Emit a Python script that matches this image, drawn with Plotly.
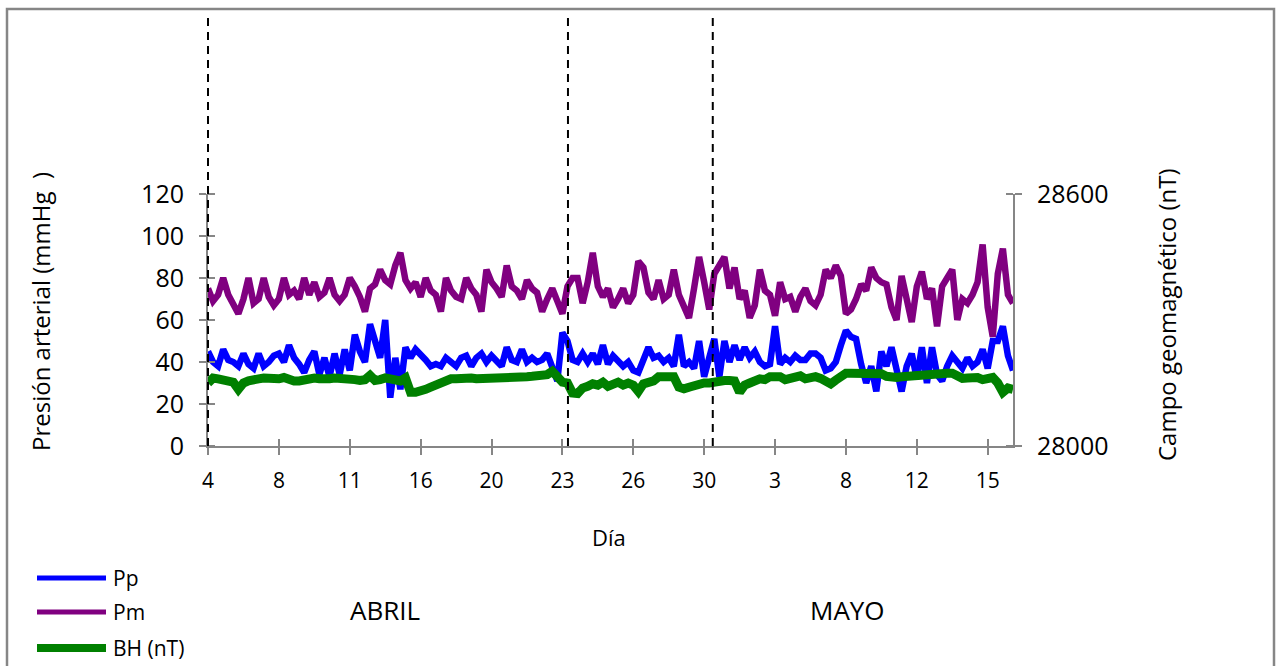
import plotly.graph_objects as go

# ---- data -------------------------------------------------------------
day_ticks = ["4", "8", "11", "16", "20", "23", "26", "30", "3", "8", "12", "15"]
tick_step = 14  # readings between labelled days

pp = [45, 40, 38, 46, 41, 40, 38, 44, 39, 37, 44, 38, 40, 43, 44, 40, 48, 42, 39, 35,
      41, 45, 34, 42, 33, 44, 34, 46,
      36, 53, 45, 40, 58, 50, 42, 60, 23, 42, 27, 47, 42, 46, 44, 41, 38, 39, 38, 42,
      40, 38, 42, 43, 38, 42, 44,
      40, 43, 41, 38, 47, 41, 40, 46, 40, 42, 40, 41, 44, 38, 31, 54, 50, 41, 40, 44,
      40, 44, 39, 48, 39, 43,
      41, 38, 40, 36, 35, 42, 47, 42, 43, 40, 42, 38, 53, 38, 40, 37, 50, 33, 41, 51,
      33, 50, 40, 48, 41, 47, 42,
      45, 40, 38, 39, 57, 39, 42, 40, 43, 41, 41, 44, 44, 42, 36, 37, 40, 48, 55, 52,
      51, 39, 30, 38, 26, 45,
      38, 47, 35, 26, 38, 44, 32, 47, 30, 47, 34, 31, 38, 43, 40, 37, 42, 38, 40, 46,
      37, 50, 50, 57, 43, 36]

pm = [75, 69, 72, 80, 72, 68, 63, 70, 80, 68, 70, 80, 71, 67, 70, 80, 72, 74, 70, 80,
      72, 78, 71, 73, 80, 72, 69, 72,
      80, 76, 71, 64, 75, 77, 84, 79, 77, 86, 92, 79, 75, 78, 71, 80, 74, 72, 64, 80,
      74, 71, 70, 80, 75, 72, 64,
      84, 78, 75, 71, 86, 76, 74, 70, 79, 75, 73, 64, 70, 75, 69, 63, 76, 80, 80, 68,
      78, 92, 76, 71, 75, 66,
      70, 75, 68, 72, 88, 85, 73, 70, 79, 70, 72, 84, 72, 66, 61, 75, 90, 78, 65, 82,
      86, 90, 75, 85, 70, 74, 61,
      67, 84, 74, 72, 62, 78, 70, 71, 64, 71, 75, 69, 67, 72, 84, 80, 86, 81, 63, 65,
      70, 77, 74, 85, 80, 78,
      77, 66, 60, 81, 71, 59, 76, 83, 70, 75, 57, 76, 80, 84, 60, 70, 68, 72, 78, 96,
      66, 52, 82, 94, 72, 68]

bh = [28150, 28162, 28160, 28158, 28157, 28152, 28135, 28150, 28155, 28155, 28160, 28162,
      28160, 28163, 28160, 28163, 28158, 28155, 28155, 28158, 28162, 28162, 28160, 28158,
      28160, 28162, 28162, 28160,
      28158, 28158, 28156, 28158, 28168, 28156, 28158, 28162, 28160, 28158, 28155, 28162,
      28128, 28128, 28130, 28135, 28140, 28145, 28150, 28160, 28160, 28160, 28162, 28164,
      28162, 28160, 28160,
      28163, 28165, 28165, 28163, 28163, 28165, 28165, 28165, 28165, 28166, 28168, 28172,
      28170, 28178, 28165, 28152, 28150, 28126, 28125, 28138, 28142, 28148, 28145, 28152,
      28142, 28148,
      28152, 28145, 28150, 28145, 28130, 28148, 28152, 28155, 28165, 28165, 28165, 28165,
      28140, 28136, 28140, 28145, 28150, 28150, 28150, 28153, 28158, 28156, 28156, 28155,
      28128, 28145, 28150,
      28157, 28160, 28158, 28165, 28165, 28165, 28158, 28160, 28160, 28167, 28160, 28162,
      28165, 28161, 28155, 28148, 28157, 28165, 28173, 28173, 28173, 28173, 28173, 28173,
      28173, 28172,
      28166, 28162, 28163, 28165, 28166, 28170, 28172, 28172, 28170, 28173, 28173, 28172,
      28173, 28173, 28165, 28161, 28162, 28164, 28163, 28158, 28161, 28163, 28150, 28128,
      28138, 28135]

series_names = ["Pp", "Pm", "BH (nT)"]
series_colors = ["#0000FF", "#800080", "#008000"]
series_widths = [6.5, 6.5, 9]

month_labels = ["ABRIL", "MAYO"]
period_marks = [0, 71.1, 99.7]  # reading index of the dashed separators

left_range = [0, 120]
left_ticks = [0, 20, 40, 60, 80, 100, 120]
right_range = [28000, 28600]

x = list(range(len(pp)))
n_last = len(pp) - 1

# ---- geometry helpers (pixels -> paper) ------------------------------
W, H = 1282, 666
L, R, T, B = 208, 1013, 194, 446


def px(xp):
    return (xp - L) / (R - L)


def py(yp):
    return (B - yp) / (B - T)


GRAY = "#868686"
FONT = "Open Sans"

fig = go.Figure()

fig.add_trace(go.Scatter(x=x, y=bh, mode="lines", name=series_names[2],
                         line=dict(color=series_colors[2], width=series_widths[2]),
                         yaxis="y2", showlegend=False))
fig.add_trace(go.Scatter(x=x, y=pp, mode="lines", name=series_names[0],
                         line=dict(color=series_colors[0], width=series_widths[0]),
                         showlegend=False))
fig.add_trace(go.Scatter(x=x, y=pm, mode="lines", name=series_names[1],
                         line=dict(color=series_colors[1], width=series_widths[1]),
                         showlegend=False))

tickvals = [i * tick_step for i in range(len(day_ticks))]


def cross_ticks(vals, span):
    # inward half of the crossing tick marks, drawn as minor ticks set a
    # hair away from the major ones so they are not merged with them
    eps = span * 1e-6
    return dict(ticks="inside", tickvals=[v + eps for v in vals], ticklen=7,
                tickwidth=2, tickcolor=GRAY, showgrid=False)


axis_common = dict(showgrid=False, zeroline=False, linecolor=GRAY, linewidth=2,
                   tickcolor=GRAY, tickwidth=2, ticklen=7, fixedrange=True,
                   showline=True, ticks="outside")

fig.update_layout(
    width=W, height=H,
    margin=dict(l=L, r=W - R, t=T, b=H - B),
    paper_bgcolor="white", plot_bgcolor="white",
    font=dict(family=FONT, color="black"),
    xaxis=dict(range=[0, n_last], tickvals=tickvals, ticktext=day_ticks,
               tickfont=dict(size=21), ticklabelstandoff=8,
               minor=cross_ticks(tickvals, n_last), **axis_common),
    yaxis=dict(range=left_range, tickvals=left_ticks,
               tickfont=dict(size=25), ticklabelstandoff=10,
               minor=cross_ticks(left_ticks, 120), **axis_common),
    yaxis2=dict(range=right_range, tickvals=right_range,
                ticktext=[str(v) for v in right_range], overlaying="y",
                side="right", tickfont=dict(size=25), ticklabelstandoff=10,
                minor=cross_ticks(right_range, 600), **axis_common),
)

shapes = []
# chart frame
shapes.append(dict(type="rect", xref="paper", yref="paper",
                   x0=px(7), x1=px(1274), y0=py(700), y1=py(9),
                   line=dict(color=GRAY, width=2.5), layer="below"))
# dashed period separators (paper-referenced so the one on the axis is not clipped)
for xm in period_marks:
    xp = xm / n_last
    shapes.append(dict(type="line", xref="paper", yref="paper", x0=xp, x1=xp,
                       y0=0, y1=py(14), line=dict(color="black", width=2, dash="8px,6px"),
                       layer="above"))
# legend keys
legend_y = [578, 612, 648]
for name, col, w, yl in zip(series_names, series_colors, [5, 5, 8], legend_y):
    shapes.append(dict(type="line", xref="paper", yref="paper",
                       x0=px(37), x1=px(106), y0=py(yl), y1=py(yl),
                       line=dict(color=col, width=w)))
fig.update_layout(shapes=shapes)

ann = []
for name, yl in zip(series_names, legend_y):
    ann.append(dict(text=name, xref="paper", yref="paper", x=px(111), y=py(yl),
                    xanchor="left", yanchor="middle", showarrow=False,
                    font=dict(size=21)))
ann.append(dict(text=month_labels[0], xref="paper", yref="paper", x=px(385), y=py(610),
                xanchor="center", yanchor="middle", showarrow=False, font=dict(size=26)))
ann.append(dict(text=month_labels[1], xref="paper", yref="paper", x=px(847), y=py(610),
                xanchor="center", yanchor="middle", showarrow=False, font=dict(size=26)))
ann.append(dict(text="Día", xref="paper", yref="paper", x=px(609), y=py(537),
                xanchor="center", yanchor="middle", showarrow=False, font=dict(size=22)))
ann.append(dict(text="Presión arterial (mmHg  )", xref="paper", yref="paper",
                x=px(40), y=py(312), textangle=-90, xanchor="center", yanchor="middle",
                showarrow=False, font=dict(size=24)))
ann.append(dict(text="Campo geomagnético (nT)", xref="paper", yref="paper",
                x=px(1166), y=py(315), textangle=-90, xanchor="center", yanchor="middle",
                showarrow=False, font=dict(size=24)))
fig.update_layout(annotations=ann)

fig.write_html("out.html")
